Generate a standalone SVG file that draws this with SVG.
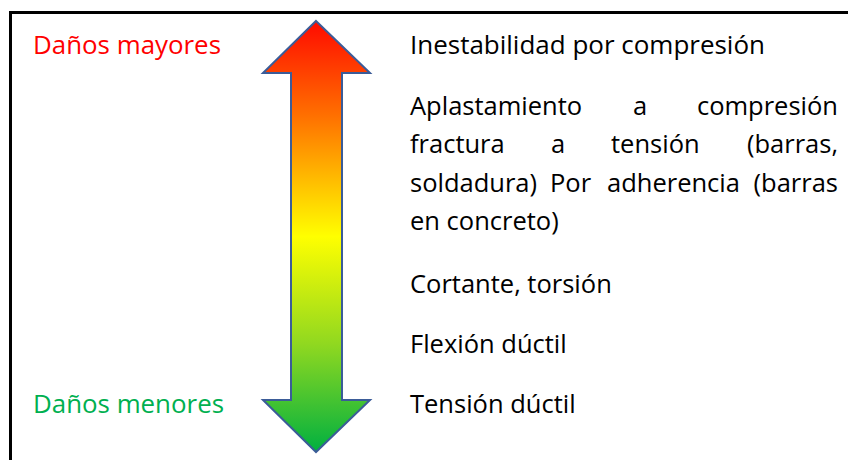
<svg xmlns="http://www.w3.org/2000/svg" width="848" height="460" viewBox="0 0 848 460">
<defs>
<linearGradient id="g" x1="0" y1="21" x2="0" y2="452" gradientUnits="userSpaceOnUse">
<stop offset="0" stop-color="#FF0A00"/>
<stop offset="0.22" stop-color="#FF7000"/>
<stop offset="0.5" stop-color="#FFFF00"/>
<stop offset="0.75" stop-color="#90D820"/>
<stop offset="1" stop-color="#00B040"/>
</linearGradient>
</defs>
<style>
text{font-family:"Open Sans","Noto Sans","Liberation Sans",sans-serif;font-size:25.5px;fill:#000}
.red{fill:#FF0000}
.grn{fill:#00B050}
.e{text-anchor:end}
.frame{stroke:#000;stroke-width:3;fill:none}
</style>
<rect width="848" height="460" fill="#fff"/>
<g id="frame">
<line class="frame" x1="9" y1="12.5" x2="848" y2="12.5"/>
<line class="frame" x1="10.5" y1="11" x2="10.5" y2="460"/>
</g>
<g id="arrow">
<path d="M316,21 L370,73 L342,73 L342,400 L370,400 L316,452 L263,400 L291,400 L291,73 L263,73 Z" fill="url(#g)" stroke="#3B5C98" stroke-width="2" stroke-linejoin="miter"/>
</g>
<g id="label-mayores"><text class="red" x="33" y="54" textLength="188" lengthAdjust="spacingAndGlyphs">Daños mayores</text></g>
<g id="label-menores"><text class="grn" x="33" y="413" textLength="191" lengthAdjust="spacingAndGlyphs">Daños menores</text></g>
<g id="item-inestabilidad"><text x="410" y="54" textLength="355" lengthAdjust="spacingAndGlyphs">Inestabilidad por compresión</text></g>
<g id="item-aplastamiento">
<text x="410" y="115">Aplastamiento</text>
<text x="633" y="115">a</text>
<text class="e" x="838" y="115">compresión</text>
<text x="410" y="153.3">fractura</text>
<text x="551" y="153.3">a</text>
<text x="611" y="153.3">tensión</text>
<text class="e" x="838" y="153.3">(barras,</text>
<text x="410" y="191.6">soldadura)</text>
<text x="550" y="191.6">Por</text>
<text x="607" y="191.6">adherencia</text>
<text class="e" x="838" y="191.6">(barras</text>
<text x="410" y="230">en concreto)</text>
</g>
<g id="item-cortante"><text x="410" y="293">Cortante, torsión</text></g>
<g id="item-flexion"><text x="410" y="353">Flexión dúctil</text></g>
<g id="item-tension"><text x="410" y="413">Tensión dúctil</text></g>
</svg>
